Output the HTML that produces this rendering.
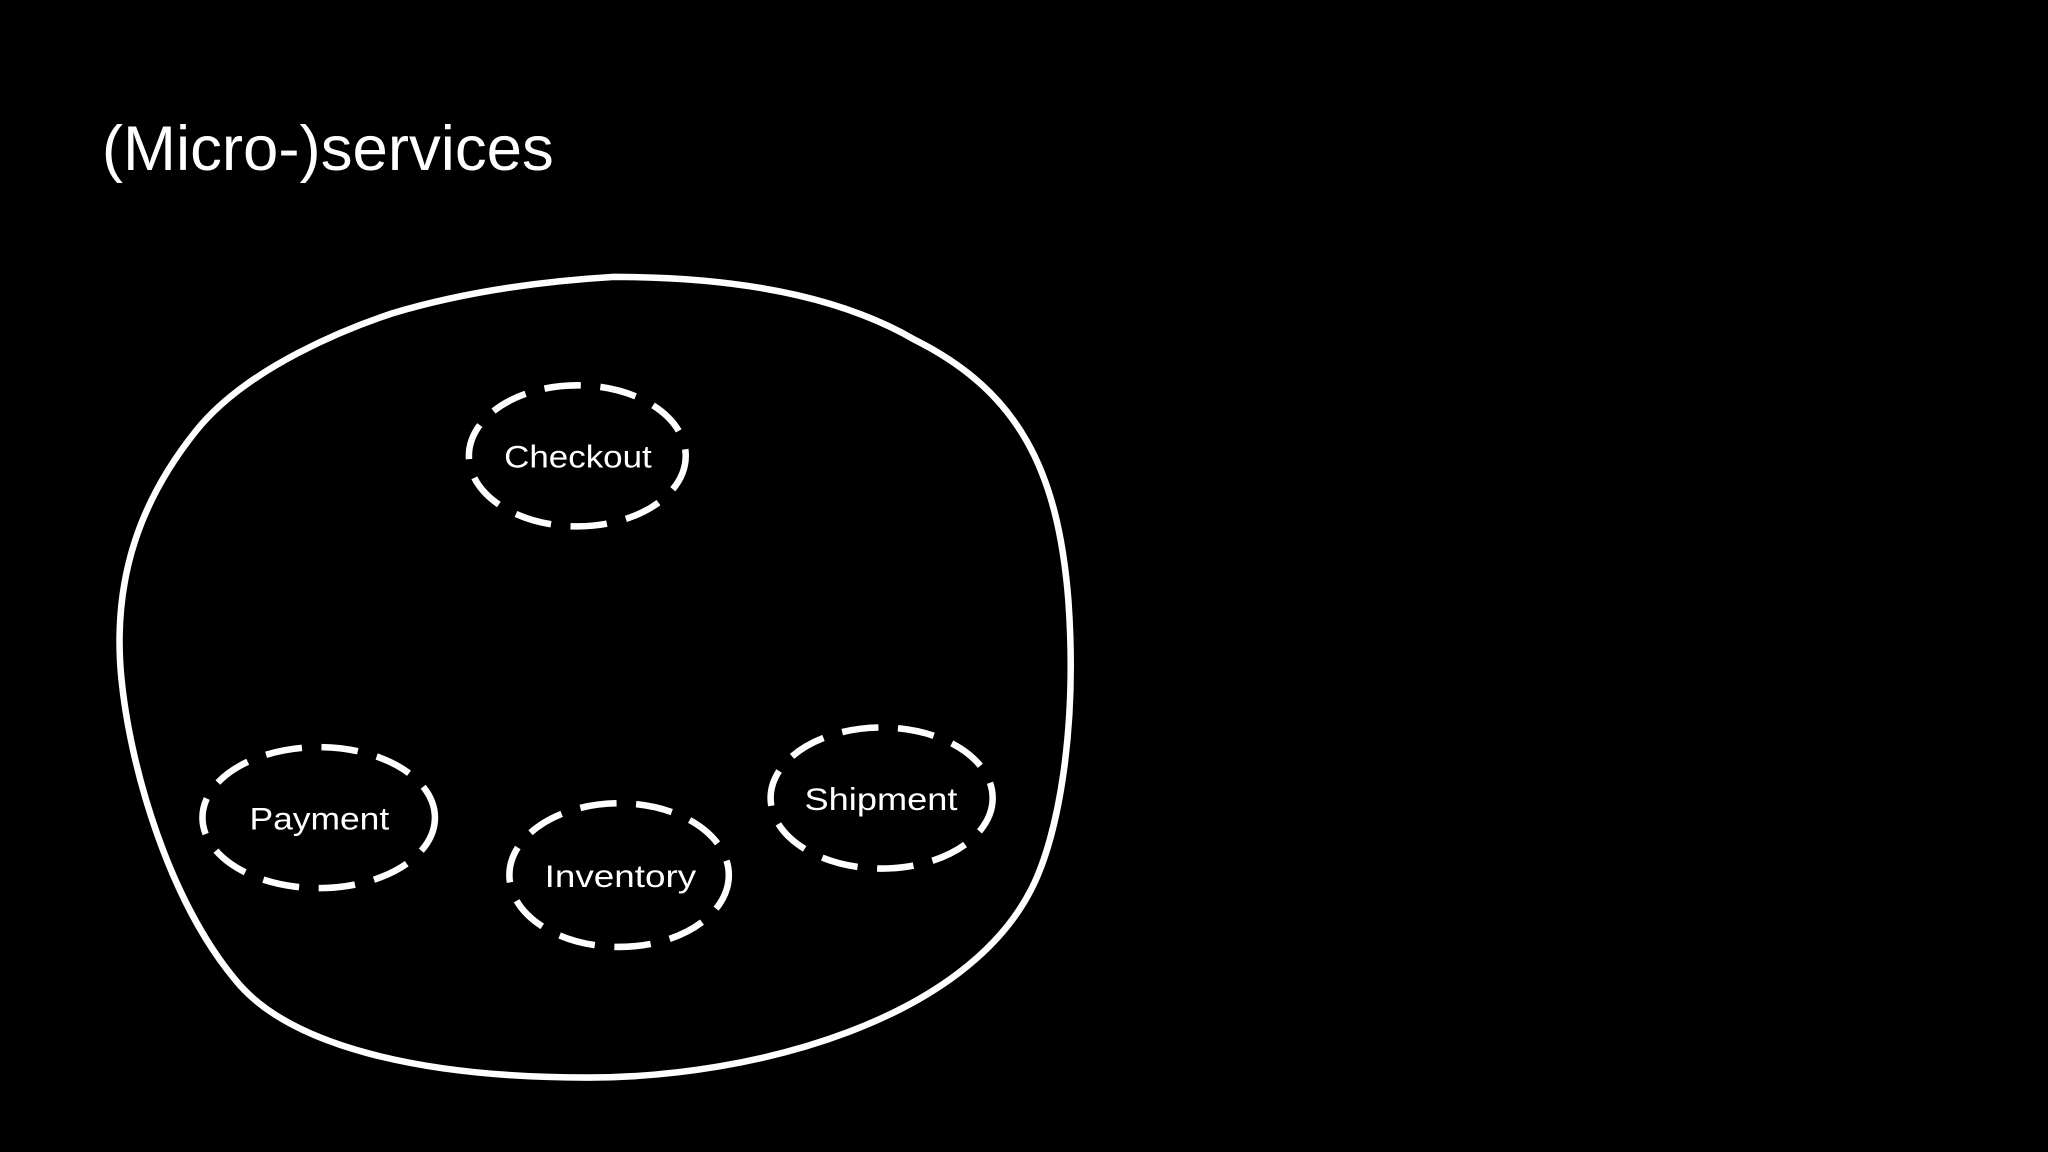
<!DOCTYPE html>
<html>
<head>
<meta charset="utf-8">
<style>
html,body{margin:0;padding:0;background:#000;width:2048px;height:1152px;overflow:hidden}
svg{display:block}
</style>
</head>
<body>
<svg width="2048" height="1152" viewBox="0 0 1568 882" xmlns="http://www.w3.org/2000/svg">
<rect width="1568" height="882" fill="#000"/>
<text x="78" y="130" fill="#fff" font-family="Liberation Sans Narrow, Liberation Sans, sans-serif" font-size="48" textLength="346" lengthAdjust="spacingAndGlyphs">(Micro-)services</text>
<path d="M470,212 C560,212 640,225 700,260 C780,300 810,360 818,460 C825,560 810,640 790,680 C740,780 580,825 450,825 C320,825 220,800 180,750 C130,690 100,590 93,520 C85,440 110,380 150,330 C190,280 270,250 300,240 C360,222 420,215 470,212 Z" fill="none" stroke="#fff" stroke-width="5"/>
<g fill="none" stroke="#fff" stroke-width="5" stroke-dasharray="28 15">
<ellipse cx="442" cy="349" rx="83" ry="54"/>
<ellipse cx="244" cy="626" rx="89" ry="54"/>
<ellipse cx="474" cy="670" rx="84" ry="55"/>
<ellipse cx="675" cy="611" rx="85" ry="54"/>
</g>
<g fill="#fff" font-family="Liberation Sans, sans-serif" font-size="24" lengthAdjust="spacingAndGlyphs">
<text x="386" y="358" textLength="113" lengthAdjust="spacingAndGlyphs">Checkout</text>
<text x="191" y="635" textLength="107" lengthAdjust="spacingAndGlyphs">Payment</text>
<text x="417" y="679" textLength="116" lengthAdjust="spacingAndGlyphs">Inventory</text>
<text x="616" y="620" textLength="117" lengthAdjust="spacingAndGlyphs">Shipment</text>
</g>
</svg>
</body>
</html>
